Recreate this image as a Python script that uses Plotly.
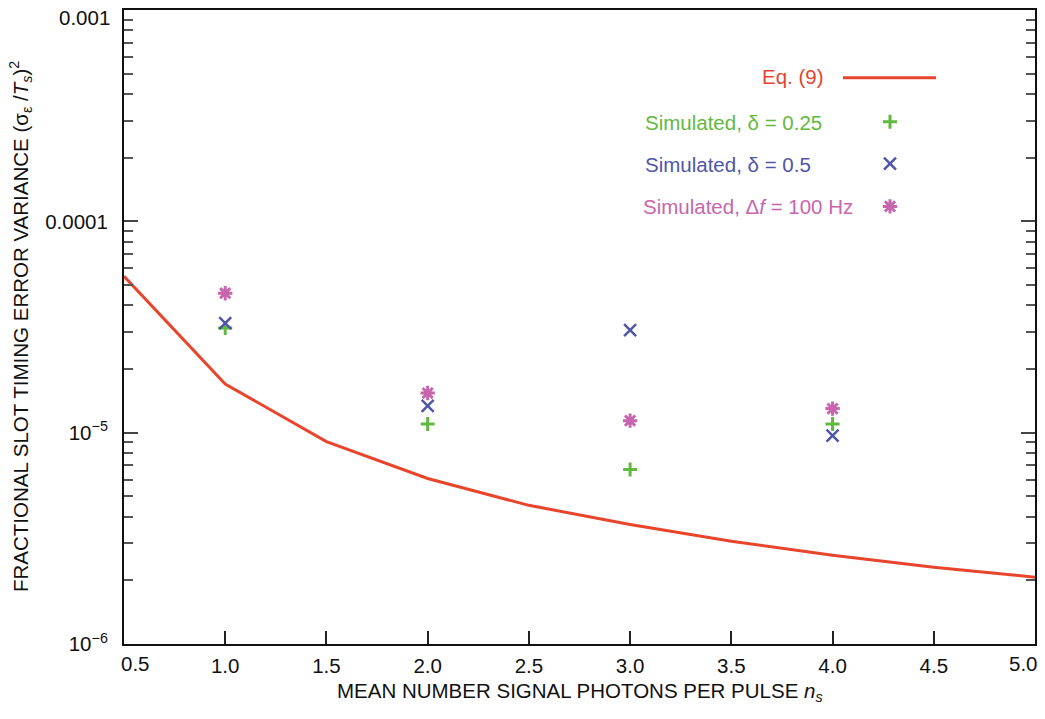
import plotly.graph_objects as go

# ---- data ----
x_eq = [0.5, 1.0, 1.5, 2.0, 2.5, 3.0, 3.5, 4.0, 4.5, 5.0]
y_eq = [5.5e-5, 1.70e-5, 9.07e-6, 6.07e-6, 4.53e-6, 3.68e-6, 3.06e-6, 2.63e-6, 2.31e-6, 2.07e-6]

x_sim = [1.0, 2.0, 3.0, 4.0]
y_d025 = [3.13e-5, 1.10e-5, 6.69e-6, 1.10e-5]
y_d05 = [3.30e-5, 1.34e-5, 3.06e-5, 9.68e-6]
y_df = [4.57e-5, 1.54e-5, 1.14e-5, 1.30e-5]

x_ticks = [0.5, 1.0, 1.5, 2.0, 2.5, 3.0, 3.5, 4.0, 4.5, 5.0]
x_ticktext = ["", "1.0", "1.5", "2.0", "2.5", "3.0", "3.5", "4.0", "4.5", ""]
x_end_labels = ["0.5", "5.0"]
y_major = [1e-6, 1e-5, 1e-4]
y_major_text = ["10<sup>−6</sup>", "10<sup>−5</sup>", "0.0001"]
y_top_label = "0.001"
y_minor = [m * 10.0 ** e for e in (-6, -5, -4) for m in range(2, 10)]

# ---- style ----
RED = "#e8452c"
GREEN = "#62b93e"
BLUE = "#4f56a8"
PINK = "#c866ad"
FONT = "Liberation Sans, Arial, Helvetica, sans-serif"
FS = 20.5

W, H = 1045, 719
L, R, T, B = 124, 1035, 8, 644


def px(x):
    return (x - L) / (R - L)


def py(y):
    return (B - y) / (B - T)


fig = go.Figure()

fig.add_trace(go.Scatter(x=x_eq, y=y_eq, mode="lines", line=dict(color=RED, width=3),
                         showlegend=False))
fig.add_trace(go.Scatter(x=x_sim, y=y_d025, mode="markers",
                         marker=dict(symbol="cross-thin-open", size=10, color=GREEN,
                                     line=dict(color=GREEN, width=3)),
                         showlegend=False))
fig.add_trace(go.Scatter(x=x_sim, y=y_d05, mode="markers",
                         marker=dict(symbol="x-thin-open", size=12, color=BLUE,
                                     line=dict(color=BLUE, width=2.5)),
                         showlegend=False))
fig.add_trace(go.Scatter(x=x_sim, y=y_df, mode="markers",
                         marker=dict(symbol="asterisk-open", size=12, color=PINK,
                                     line=dict(color=PINK, width=3)),
                         showlegend=False))

# legend keys on an overlay axis in pixel units
key_x = [890, 890, 890]
key_y = [120, 162, 205]
key_sym = ["cross-thin-open", "x-thin-open", "asterisk-open"]
key_col = [GREEN, BLUE, PINK]
key_w = [3, 2.5, 3]
key_sz = [10, 12, 12]
for kx, ky, s, c, w, sz in zip(key_x, key_y, key_sym, key_col, key_w, key_sz):
    fig.add_trace(go.Scatter(x=[kx], y=[ky], mode="markers", xaxis="x2", yaxis="y2",
                             marker=dict(symbol=s, size=sz, color=c, line=dict(color=c, width=w)),
                             showlegend=False, hoverinfo="skip"))

fig.add_shape(type="line", xref="paper", yref="paper",
              x0=px(843), x1=px(936), y0=py(76), y1=py(76),
              line=dict(color=RED, width=3))

legend_rows = [
    ("Eq. (9)", RED, 826, 75, "right"),
    ("Simulated, δ = 0.25", GREEN, 643, 121, "left"),
    ("Simulated, δ = 0.5", BLUE, 643, 163, "left"),
    ("Simulated, Δ<i>f</i> = 100 Hz", PINK, 641, 205, "left"),
]
for txt, col, x, y, anc in legend_rows:
    fig.add_annotation(text=txt, xref="paper", yref="paper", x=px(x), y=py(y),
                       xanchor=anc, yanchor="middle", showarrow=False,
                       font=dict(family=FONT, size=FS, color=col))

# top y tick label (pushed below the frame as in the reference)
fig.add_annotation(text=y_top_label, xref="paper", yref="paper", x=px(112), y=py(16),
                   xanchor="right", yanchor="middle", showarrow=False,
                   font=dict(family=FONT, size=FS, color="#111"))
# end x tick labels, pulled inward as in the reference
for lab, cx in zip(x_end_labels, [135, 1023]):
    fig.add_annotation(text=lab, xref="paper", yref="paper", x=px(cx), y=py(664),
                       xanchor="center", yanchor="middle", showarrow=False,
                       font=dict(family=FONT, size=FS, color="#111"))

# axis titles
fig.add_annotation(text="MEAN NUMBER SIGNAL PHOTONS PER PULSE <i>n</i><sub><i>s</i></sub>",
                   xref="paper", yref="paper", x=0.5, y=py(692), xanchor="center",
                   yanchor="middle", showarrow=False,
                   font=dict(family=FONT, size=FS, color="#111"))
fig.add_annotation(text="FRACTIONAL SLOT TIMING ERROR VARIANCE (σ<sub>ε</sub> /<i>T</i><sub><i>s</i></sub>)<sup>2</sup>",
                   xref="paper", yref="paper", x=px(20), y=0.5, xanchor="center",
                   yanchor="middle", textangle=-90, showarrow=False,
                   font=dict(family=FONT, size=FS, color="#111"))

fig.update_layout(
    width=W, height=H,
    margin=dict(l=L, r=W - R, t=T, b=H - B),
    paper_bgcolor="white", plot_bgcolor="white",
    font=dict(family=FONT, size=FS, color="#111"),
    xaxis=dict(range=[0.5, 5.0], tickvals=x_ticks, ticktext=x_ticktext,
               ticks="inside", ticklen=13, tickwidth=1.5, tickcolor="#222",
               showline=True, linecolor="#111", linewidth=2, mirror=True,
               showgrid=False, zeroline=False, ticklabelstandoff=2),
    yaxis=dict(type="log", range=[-6, -3], tickvals=y_major, ticktext=y_major_text,
               ticks="inside", ticklen=14, tickwidth=1.5, tickcolor="#444",
               minor=dict(tickvals=y_minor, ticks="inside", ticklen=9, tickwidth=1.5,
                          tickcolor="#555", showgrid=False),
               showline=True, linecolor="#111", linewidth=2, mirror="ticks",
               showgrid=False, zeroline=False, ticklabelstandoff=10),
    xaxis2=dict(range=[L, R], overlaying="x", visible=False, fixedrange=True),
    yaxis2=dict(range=[B, T], overlaying="y", visible=False, fixedrange=True),
)

fig.write_html("out.html", config={"displayModeBar": False},
               post_script="document.body.style.margin='0';document.body.style.overflow='hidden';")
